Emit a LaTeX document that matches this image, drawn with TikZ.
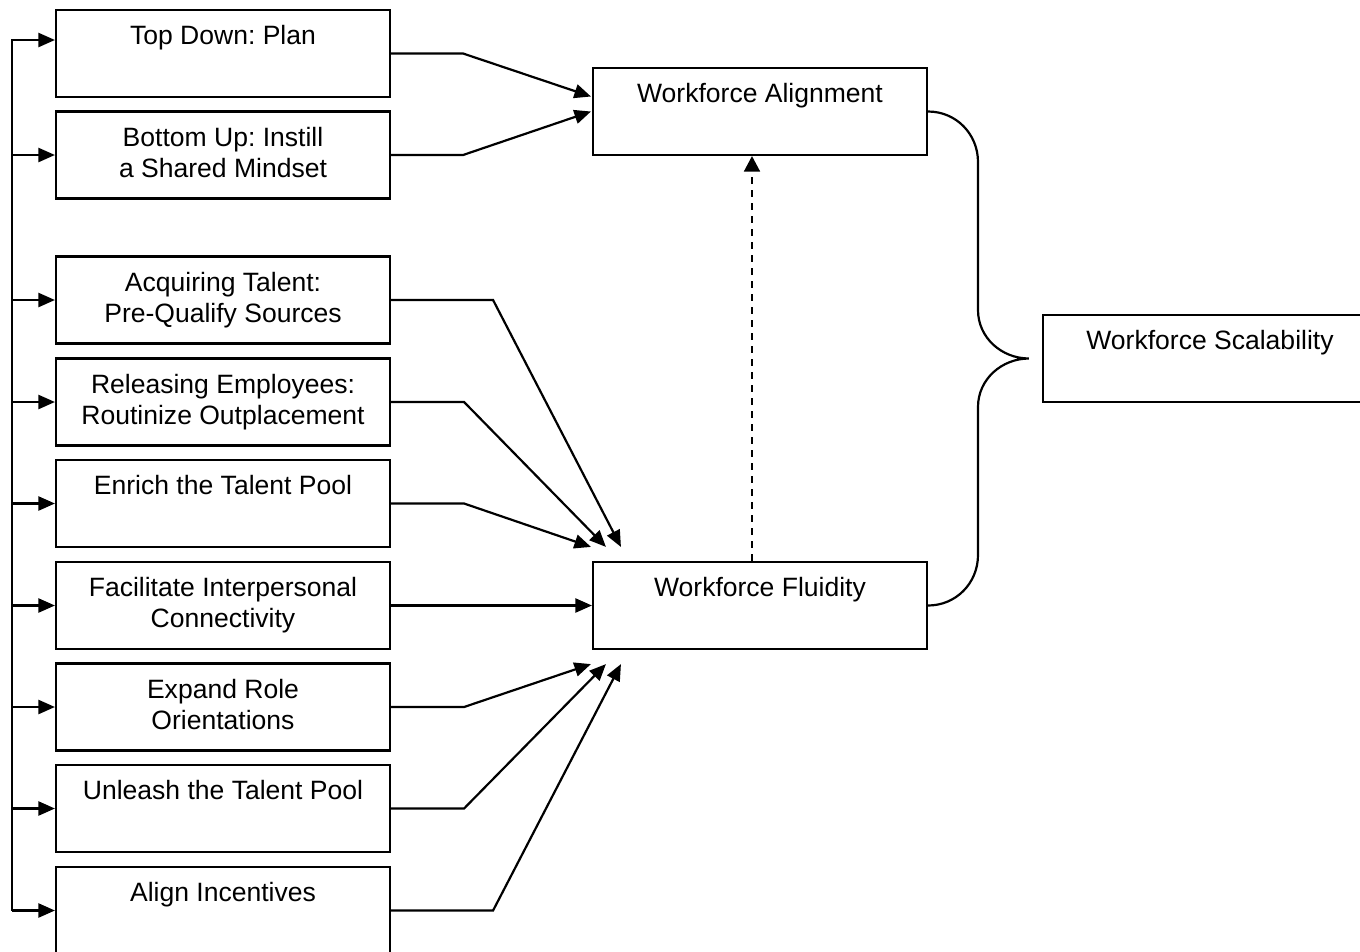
\documentclass[tikz,border=0pt]{standalone}
\usepackage{fontspec}
\setmainfont{Liberation Sans}
\usetikzlibrary{arrows.meta,calc}
\frenchspacing
\newcommand\bt[1]{\parbox[c][1.74cm][t]{6.6cm}{\fontsize{15.1pt}{0.62cm}\selectfont\centering\rule{0pt}{0.69cm}#1\par}}
\begin{document}
\begin{tikzpicture}[x=0.02cm,y=-0.02cm,
  box/.style={draw,line width=1.25pt,minimum width=6.68cm,minimum height=1.74cm,inner sep=0pt},
  conn/.style={line width=1.25pt,-{Triangle[length=0.33cm,width=0.28cm]}},
  dashconn/.style={line width=1pt,dash pattern=on 0.14cm off 0.12cm,-{Triangle[length=0.31cm,width=0.32cm]}},
  bracestyle/.style={line width=1.25pt}]
\clip (0,0) rectangle (1360,951);
% left boxes
\node[box] (b1) at (223,53.5) {\bt{Top Down: Plan}};
\node[box] (b2) at (223,155) {\bt{Bottom Up: Instill\\a Shared Mindset}};
\node[box] (b3) at (223,300) {\bt{Acquiring Talent:\\Pre-Qualify Sources}};
\node[box] (b4) at (223,402) {\bt{Releasing Employees:\\Routinize Outplacement}};
\node[box] (b5) at (223,503.5) {\bt{Enrich the Talent Pool}};
\node[box] (b6) at (223,605.5) {\bt{Facilitate Interpersonal\\Connectivity}};
\node[box] (b7) at (223,707) {\bt{Expand Role\\Orientations}};
\node[box] (b8) at (223,808.5) {\bt{Unleash the Talent Pool}};
\node[box] (b9) at (223,910.5) {\bt{Align Incentives}};
% right boxes
\node[box] (wa) at (760,111.5) {\bt{Workforce Alignment}};
\node[box] (wf) at (760,605.5) {\bt{Workforce Fluidity}};
\node[box] (ws) at (1210,358.5) {\bt{Workforce Scalability}};
% bus
\coordinate (bustop) at (12,40);
\coordinate (busbot) at (12,910.5);
\draw[conn] (busbot) -- (bustop) -- (bustop -| b1.west);
\foreach \b in {b2,b3,b4,b5,b6,b7,b8,b9} \draw[conn] (bustop |- \b.west) -- (\b.west);
% into alignment
\draw[conn] (b1.east) -- ++(72,0) -- ($(wa.west)+(-1,-15)$);
\draw[conn] (b2.east) -- ++(72,0) -- ($(wa.west)+(-1,0)$);
% into fluidity
\draw[conn] (b3.east) -- ++(102,0) -- ($(wf.north west)+(29,-14)$);
\draw[conn] (b4.east) -- ++(73,0) -- ($(wf.north west)+(14,-14)$);
\draw[conn] (b5.east) -- ++(73,0) -- ($(wf.north west)+(-1,-14)$);
\draw[conn] (b6.east) -- (wf.west);
\draw[conn] (b7.east) -- ++(73,0) -- ($(wf.south west)+(-1,14)$);
\draw[conn] (b8.east) -- ++(73,0) -- ($(wf.south west)+(14,14)$);
\draw[conn] (b9.east) -- ++(102,0) -- ($(wf.south west)+(29,14)$);
% dashed
\draw[dashconn] ($(wf.north)+(-8,0)$) -- ($(wa.south)+(-8,0)$);
% brace
\coordinate (tip) at ($(ws.west)+(-13,0)$);
\draw[bracestyle] (wa.east) .. controls ($(wa.east)+(28,0)$) and (978,134) .. (978,162)
  -- (978,310) .. controls (978,338) and (1002,358.5) .. (tip)
  .. controls (1002,358.5) and (978,379) .. (978,407)
  -- (978,555) .. controls (978,583) and ($(wf.east)+(28,0)$) .. (wf.east);
\end{tikzpicture}
\end{document}
